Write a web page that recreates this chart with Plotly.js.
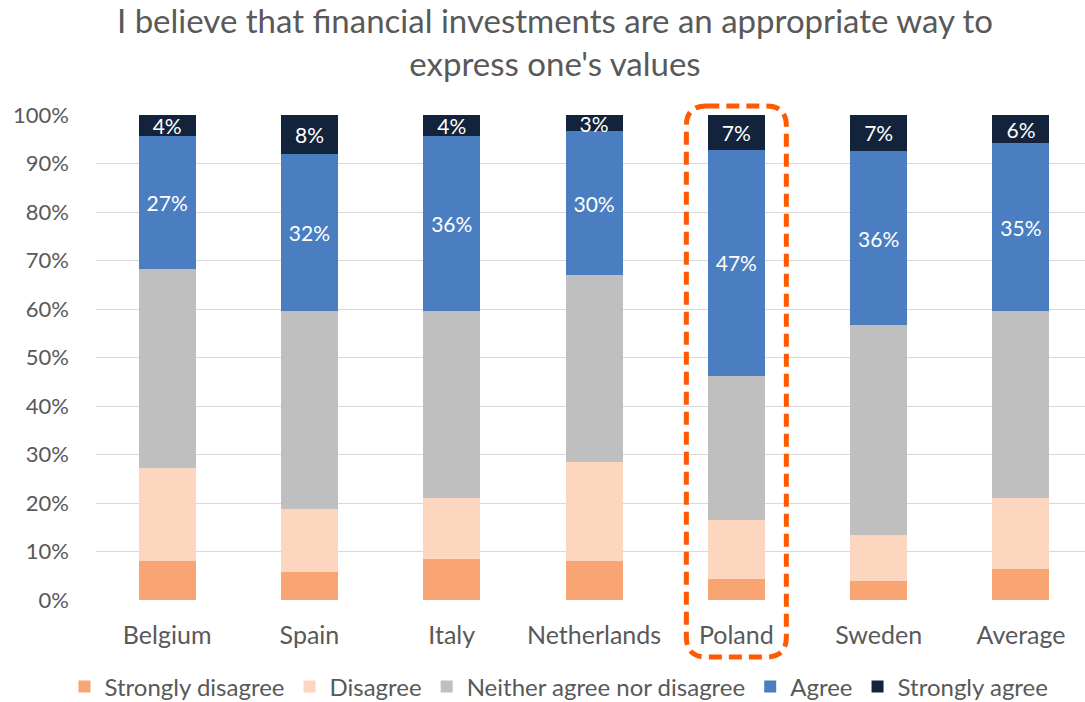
<!DOCTYPE html>
<html>
<head>
<meta charset="utf-8">
<script src="https://cdn.plot.ly/plotly-3.0.1.min.js"></script>
<style>
  html, body { margin: 0; padding: 0; background: #ffffff; overflow: hidden; }
  #chart { width: 1085px; height: 702px; }
</style>
</head>
<body>
<div id="chart"></div>
<script>
// ---- data (percent of respondents) ----
const countries = ["Belgium", "Spain", "Italy", "Netherlands", "Poland", "Sweden", "Average"];
const stronglyDisagree = [8.0, 5.8, 8.5, 8.1, 4.4, 3.9, 6.4];
const disagree         = [19.2, 13.0, 12.5, 20.3, 12.0, 9.5, 14.6];
const neither          = [41.0, 40.8, 38.6, 38.6, 29.8, 43.2, 38.6];
const agree            = [27.4, 32.4, 36.1, 29.7, 46.6, 36.0, 34.6];
const stronglyAgree    = [4.4, 8.0, 4.3, 3.3, 7.2, 7.4, 5.8];
const yTickValues = [0, 10, 20, 30, 40, 50, 60, 70, 80, 90, 100];
const yTickLabels = ["0%", "10%", "20%", "30%", "40%", "50%", "60%", "70%", "80%", "90%", "100%"];
const highlighted = "Poland";

const FONT = "Lato, 'Open Sans', sans-serif";
const GREY = "#595959";

function series(name, values, color, labelled) {
  const t = {
    type: "bar",
    name: name,
    x: countries,
    y: values,
    marker: { color: color, line: { width: 0 } },
    hoverinfo: "skip"
  };
  if (labelled) {
    t.text = values.map(v => Math.round(v) + "%");
    t.texttemplate = "%{text}";
    t.textposition = "inside";
    t.insidetextanchor = "middle";
    t.textangle = 0;
    t.constraintext = "none";
    t.insidetextfont = { family: FONT, size: 21, color: "#ffffff" };
  } else {
    t.textposition = "none";
  }
  return t;
}

const data = [
  series("Strongly disagree", stronglyDisagree, "#F9A473", false),
  series("Disagree", disagree, "#FDD6BF", false),
  series("Neither agree nor disagree", neither, "#BFBFBF", false),
  series("Agree", agree, "#4A7EC1", true),
  series("Strongly agree", stronglyAgree, "#12233B", true)
];

// plot area geometry (pixels)
const W = 1085, H = 702;
const mL = 96, mR = 0, mT = 115, mB = 102;
const plotW = W - mL - mR, plotH = H - mT - mB;
const catStep = 142.3;
const xMax = -0.5 + plotW / catStep;

// highlight box around Poland (paper coordinates)
const idx = countries.indexOf(highlighted);
const cx = (idx + 0.5) * catStep;          // px from plot left
const halfW = 50;
const x0 = (cx - halfW) / plotW, x1 = (cx + halfW) / plotW;
const y1 = (plotH + 9) / plotH;             // above top
const y0 = -57 / plotH;                     // below axis
const rx = 20 / plotW, ry = 20 / plotH;
const boxPath =
  `M ${x0 + rx},${y1} L ${x1 - rx},${y1} Q ${x1},${y1} ${x1},${y1 - ry} ` +
  `L ${x1},${y0 + ry} Q ${x1},${y0} ${x1 - rx},${y0} ` +
  `L ${x0 + rx},${y0} Q ${x0},${y0} ${x0},${y0 + ry} ` +
  `L ${x0},${y1 - ry} Q ${x0},${y1} ${x0 + rx},${y1} Z`;

const layout = {
  width: W,
  height: H,
  margin: { l: mL, r: mR, t: mT, b: mB, pad: 0, autoexpand: false },
  paper_bgcolor: "#ffffff",
  plot_bgcolor: "#ffffff",
  barmode: "stack",
  bargap: 0.6,
  showlegend: true,
  hovermode: false,
  font: { family: FONT, color: GREY },
  title: {
    text: "I believe that financial investments are an appropriate way to<br>express one's values",
    font: { family: FONT, size: 33, color: GREY },
    x: 555 / W,
    xref: "container",
    xanchor: "center",
    y: 1 - 33 / H,
    yref: "container",
    yanchor: "top"
  },
  xaxis: {
    type: "category",
    range: [-0.5, xMax],
    showgrid: false,
    zeroline: false,
    showline: false,
    ticks: "",
    automargin: false,
    ticklabelstandoff: 18,
    tickfont: { family: FONT, size: 25, color: GREY },
    fixedrange: true
  },
  yaxis: {
    range: [0, 100],
    tickvals: yTickValues,
    ticktext: yTickLabels,
    showgrid: true,
    gridcolor: "#D9D9D9",
    gridwidth: 1,
    zeroline: false,
    showline: false,
    ticks: "",
    automargin: false,
    ticklabelstandoff: 26,
    tickfont: { family: FONT, size: 22, color: GREY },
    fixedrange: true
  },
  legend: {
    orientation: "h",
    xref: "container",
    x: 559 / W,
    xanchor: "center",
    yref: "container",
    y: 1 - 687 / H,
    yanchor: "middle",
    traceorder: "normal",
    bgcolor: "rgba(0,0,0,0)",
    font: { family: FONT, size: 24, color: GREY },
    itemwidth: 30,
    tracegroupgap: 0
  },
  shapes: [{
    type: "path",
    xref: "paper",
    yref: "paper",
    path: boxPath,
    line: { color: "#FF5A00", width: 5, dash: "13px,7px" },
    fillcolor: "rgba(0,0,0,0)",
    layer: "above"
  }]
};

Plotly.newPlot("chart", data, layout, { displayModeBar: false, staticPlot: true });
</script>
</body>
</html>
